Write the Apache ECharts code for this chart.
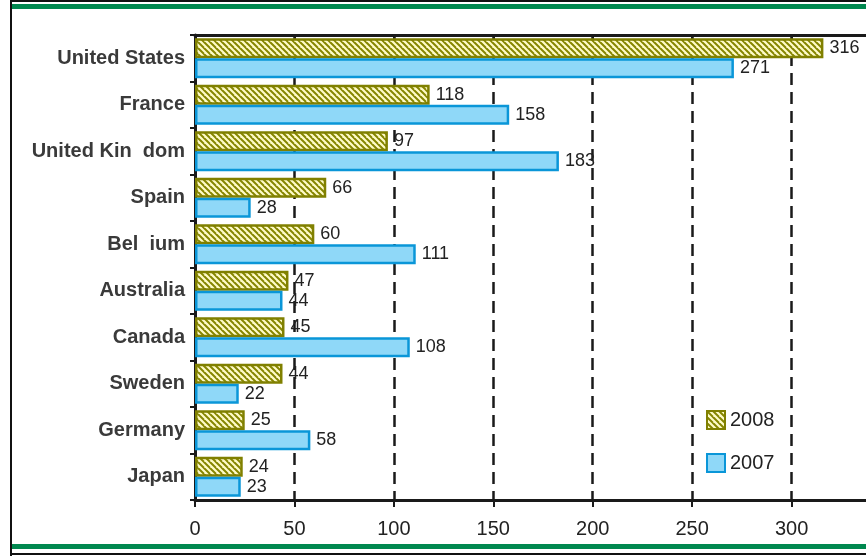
<!DOCTYPE html>
<html>
<head>
<meta charset="utf-8">
<script src="https://cdn.jsdelivr.net/npm/echarts@6/dist/echarts.min.js"></script>
<style>
  html, body { margin: 0; padding: 0; background: #fff; overflow: hidden; }
  #frame { width: 866px; height: 557px; overflow: hidden; position: relative; }
  #chart { width: 891px; height: 557px; position: absolute; left: 0; top: 0; }
</style>
</head>
<body>
<div id="frame"><div id="chart"></div></div>
<script>
// Country labels, top to bottom
const categories = ['United States', 'France', 'United Kin  dom', 'Spain', 'Bel  ium',
  'Australia', 'Canada', 'Sweden', 'Germany', 'Japan'];
const values2008 = [316, 118, 97, 66, 60, 47, 45, 44, 25, 24];
const values2007 = [271, 158, 183, 28, 111, 44, 108, 22, 58, 23];
const seriesNames = ['2008', '2007'];
const axisMax = 350;
const axisStep = 50;

// Olive/cream diagonal hatch used for the 2008 bars
function makeHatch() {
  const c = document.createElement('canvas');
  c.width = 6; c.height = 6;
  const g = c.getContext('2d');
  g.fillStyle = '#fffbc8';
  g.fillRect(0, 0, 6, 6);
  g.strokeStyle = '#868600';
  g.lineWidth = 2;
  g.beginPath();
  g.moveTo(-3, -3); g.lineTo(9, 9);
  g.moveTo(-6, 0); g.lineTo(0, 6);
  g.moveTo(0, -6); g.lineTo(12, 6);
  g.stroke();
  return c;
}

const sansFont = '"Liberation Sans", Arial, sans-serif';
const chart = echarts.init(document.getElementById('chart'), null, { renderer: 'canvas', width: 891, height: 557 });

const valueLabel = {
  show: true, position: 'right', distance: 6,
  color: '#222', fontSize: 18, fontFamily: sansFont
};

chart.setOption({
  animation: false,
  backgroundColor: '#fff',
  grid: { left: 195, top: 35, bottom: 57, right: 0, containLabel: false, outerBoundsMode: 'none' },
  legend: {
    orient: 'vertical', left: 701, top: 405, itemWidth: 18, itemHeight: 18, itemGap: 23,
    icon: 'rect',
    textStyle: { fontSize: 20, color: '#222', fontFamily: sansFont },
    data: seriesNames
  },
  xAxis: [
    {
      type: 'value', position: 'bottom', min: 0, max: axisMax, interval: axisStep,
      axisLine: { show: true, lineStyle: { color: '#1a1a1a', width: 3 } },
      axisTick: { show: true, length: 7, lineStyle: { color: '#1a1a1a', width: 2 } },
      axisLabel: { color: '#222', fontSize: 20, fontFamily: sansFont, margin: 19 },
      splitLine: { show: true, lineStyle: { color: '#1a1a1a', width: 2.5, type: [12, 7] } }
    },
    {
      type: 'value', position: 'top', min: 0, max: axisMax, interval: axisStep,
      axisLine: { show: true, lineStyle: { color: '#1a1a1a', width: 3 } },
      axisTick: { show: true, inside: true, length: 6, lineStyle: { color: '#1a1a1a', width: 2 } },
      axisLabel: { show: false },
      splitLine: { show: false }
    }
  ],
  yAxis: {
    type: 'category', data: categories, inverse: true,
    axisLine: { show: true, lineStyle: { color: '#1a1a1a', width: 3 } },
    axisTick: { show: true, length: 5, lineStyle: { color: '#1a1a1a', width: 2 } },
    axisLabel: { color: '#3a3a3a', fontSize: 20, fontFamily: sansFont, fontWeight: 'bold', margin: 10 },
    splitLine: { show: false }
  },
  series: [
    {
      name: seriesNames[0], type: 'bar', data: values2008, barWidth: 20, barGap: '0%',
      itemStyle: { color: { image: makeHatch(), repeat: 'repeat' }, borderColor: '#808000', borderWidth: 2.5 },
      label: valueLabel
    },
    {
      name: seriesNames[1], type: 'bar', data: values2007, barWidth: 20, barGap: '0%',
      itemStyle: { color: '#8fd8f8', borderColor: '#0a96d8', borderWidth: 2.5 },
      label: valueLabel
    }
  ],
  graphic: [
    { type: 'rect', shape: { x: 10, y: 0, width: 881, height: 2 }, style: { fill: '#111' }, z: 100 },
    { type: 'rect', shape: { x: 12, y: 4, width: 879, height: 5 }, style: { fill: '#00884f' }, z: 100 },
    { type: 'rect', shape: { x: 10, y: 0, width: 2, height: 556 }, style: { fill: '#111' }, z: 100 },
    { type: 'rect', shape: { x: 12, y: 544, width: 879, height: 5 }, style: { fill: '#00884f' }, z: 100 },
    { type: 'rect', shape: { x: 10, y: 553, width: 881, height: 2 }, style: { fill: '#111' }, z: 100 }
  ]
});
</script>
</body>
</html>
